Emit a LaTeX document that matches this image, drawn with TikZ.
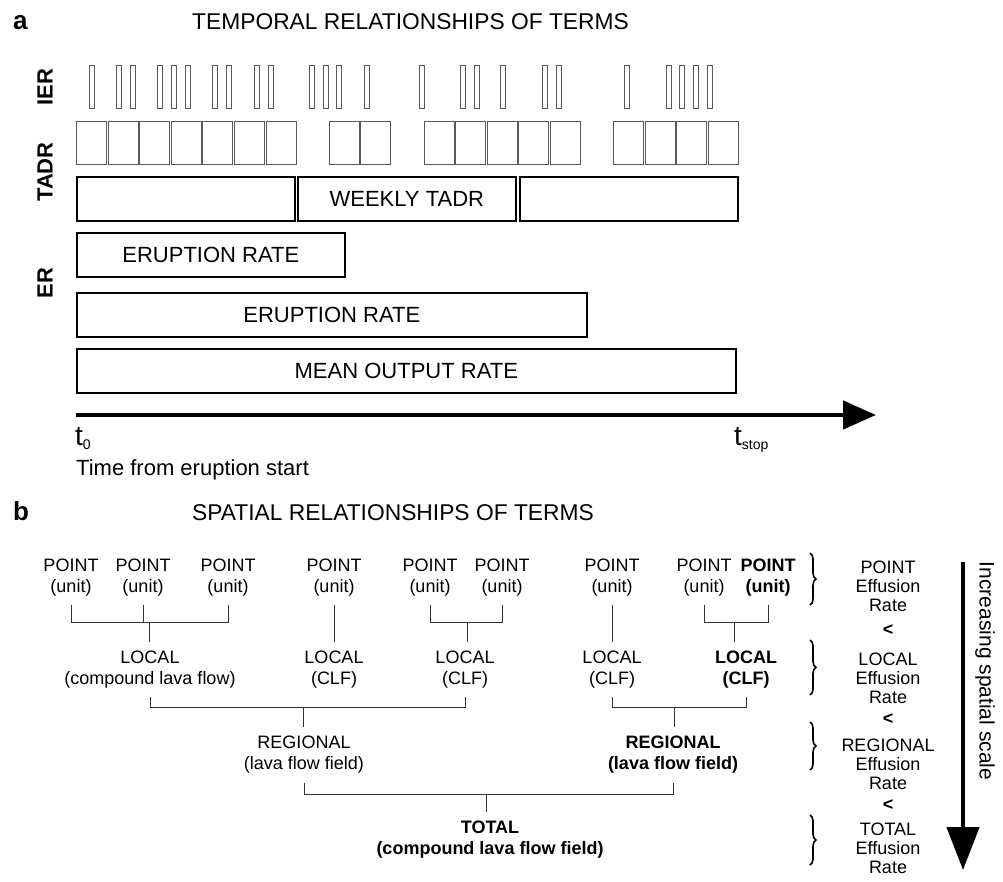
\documentclass[tikz,border=0pt]{standalone}
\usepackage{fontspec}
\setmainfont{Liberation Sans}
\usepackage{tikz}
\usetikzlibrary{arrows.meta,positioning,decorations.pathreplacing}
\definecolor{thinline}{gray}{0.35}
\definecolor{treeline}{gray}{0.2}
\newcommand{\bigtxt}{\fontsize{22}{26}\selectfont}
\newcommand{\smtxt}{\fontsize{18}{21}\selectfont}
\newcommand{\coltxt}{\fontsize{18}{19}\selectfont}
\newcommand{\hdtxt}{\fontsize{26}{30}\selectfont\bfseries}
\newcommand{\tsub}[1]{\raisebox{-4pt}{\fontsize{14}{16}\selectfont #1}}

\begin{document}
\begin{tikzpicture}[x=1pt,y=-1pt,
  ierbar/.style={draw=thinline,line width=0.9pt,minimum width=4.5pt,minimum height=43pt,inner sep=0pt},
  daybox/.style={draw=thinline,line width=0.9pt,minimum width=30pt,minimum height=43pt,inner sep=0pt,anchor=west},
  ratebox/.style={draw,line width=1.6pt,minimum height=44pt,inner sep=0pt,anchor=west,font=\bigtxt},
  axlab/.style={font=\bigtxt\bfseries,rotate=90},
  plain/.style={anchor=base west,font=\bigtxt,inner sep=0pt},
  tmark/.style={anchor=base west,font=\fontsize{28}{30}\selectfont,inner sep=0pt},
  term/.style={align=center,font=\smtxt,inner sep=0pt,outer ysep=9pt},
  bterm/.style={term,font=\smtxt\bfseries},
  tie/.style={draw=treeline,line width=0.9pt},
  ratecol/.style={align=center,font=\coltxt,inner sep=0pt,anchor=north},
  lessthan/.style={font=\coltxt\bfseries,inner sep=0pt},
  brc/.style={decorate,decoration={brace,amplitude=6pt},line width=1.6pt},
  bigarrow/.style={line width=4.5pt}]
\useasboundingbox (0,0) rectangle (1003,881);

% (a) temporal relationships
\node[plain,font=\hdtxt] (pa) at (13,29){a};
\node[plain,font=\fontsize{22.8}{26}\selectfont] (tita) at (192,29){TEMPORAL RELATIONSHIPS OF TERMS};
\node[axlab] (lier) at (45,87){IER};
\node[axlab] (ltadr) at (45,172){TADR};
\node[axlab] (ler) at (45,283){ER};
% instantaneous rates
\foreach \x [count=\i] in {92,119,133,160,174,188,215,229,257,271,312,326,339,367,
                           422,463,477,503,545,559,627,669,682,696,710}
  \node[ierbar] (ier\i) at (\x,86.5){};
% daily TADR
\foreach \k [count=\i] in {0,1,2,3,4,5,6,8,9,11,12,13,14,15,17,18,19,20}
  \node[daybox] (day\i) at ({76+31.6*\k},142.5){};
% weekly TADR
\node[ratebox,minimum width=218pt] (wk1) at (76,199){};
\node[ratebox,minimum width=218pt] (wk2) at (297,199){WEEKLY TADR};
\node[ratebox,minimum width=218pt] (wk3) at (519,199){};
% eruption rates
\node[ratebox,minimum width=268pt] (er1) at (76,255){ERUPTION RATE};
\node[ratebox,minimum width=510pt] (er2) at (76,315){ERUPTION RATE};
\node[ratebox,minimum width=659pt] (mor) at (76,371){MEAN OUTPUT RATE};
% time axis
\coordinate (tstart) at (76,415);
\coordinate (tend) at (876,415);
\draw[bigarrow,-{Triangle[width=28pt,length=33pt]}] (tstart) -- (tend);
\node[tmark] (t0) at (75,445){t\tsub{0}};
\node[tmark] (tstop) at (734,445){t\tsub{stop}};
\node[plain] (tlab) at (76,475){Time from eruption start};

% (b) spatial relationships
\node[plain,font=\hdtxt] (pb) at (13,520){b};
\node[plain,font=\fontsize{22.8}{26}\selectfont] (titb) at (192,520){SPATIAL RELATIONSHIPS OF TERMS};
% point level
\node[term] (p1) at (71,577.5){POINT\\(unit)};
\node[term] (p2) at (143,577.5){POINT\\(unit)};
\node[term] (p3) at (228,577.5){POINT\\(unit)};
\node[term] (p4) at (334,577.5){POINT\\(unit)};
\node[term] (p5) at (430,577.5){POINT\\(unit)};
\node[term] (p6) at (502,577.5){POINT\\(unit)};
\node[term] (p7) at (612,577.5){POINT\\(unit)};
\node[term] (p8) at (704,577.5){POINT\\(unit)};
\node[bterm] (p9) at (768,577.5){POINT\\(unit)};
% local level
\node[term] (l1) at (150,669.5){LOCAL\\(compound lava flow)};
\node[term] (l2) at (334,669.5){LOCAL\\(CLF)};
\node[term] (l3) at (465,669.5){LOCAL\\(CLF)};
\node[term] (l4) at (612,669.5){LOCAL\\(CLF)};
\node[bterm] (l5) at (746,669.5){LOCAL\\(CLF)};
% regional level
\node[term] (r1) at (304,755){REGIONAL\\(lava flow field)};
\node[bterm] (r2) at (673,755){REGIONAL\\(lava flow field)};
% total
\node[bterm] (tot) at (490,840){TOTAL\\(compound lava flow field)};
% point -> local
\coordinate (j1) at (149,622);
\draw[tie] (p1.south) |- (j1) -| (p3.south);
\draw[tie] (p2.south) -- (p2.south |- j1);
\draw[tie] (j1) -- (j1 |- l1.north);
\draw[tie] (p4.south) -- (l2.north);
\coordinate (j2) at (467,622);
\draw[tie] (p5.south) |- (j2) -| (p6.south);
\draw[tie] (j2) -- (j2 |- l3.north);
\draw[tie] (p7.south) -- (l4.north);
\coordinate (j3) at (734,622);
\draw[tie] (p8.south) |- (j3) -| (p9.south);
\draw[tie] (j3) -- (j3 |- l5.north);
% local -> regional
\coordinate (k1) at (303,707);
\draw[tie] (l1.south) |- (k1) -| (l3.south);
\draw[tie] (k1) -- (k1 |- r1.north);
\coordinate (k2) at (674,707);
\draw[tie] (l4.south) |- (k2) -| (l5.south);
\draw[tie] (k2) -- (k2 |- r2.north);
% regional -> total
\coordinate (m1) at (486,794);
\draw[tie] (r1.south) |- (m1) -| (r2.south);
\draw[tie] (m1) -- (m1 |- tot.north);
% effusion rate column
\node[ratecol] (cpoint) at (888,560.5){POINT\\Effusion\\Rate};
\node[lessthan] (lt1) at (888,630){<};
\node[ratecol] (clocal) at (888,652.5){LOCAL\\Effusion\\Rate};
\node[lessthan] (lt2) at (888,719){<};
\node[ratecol] (cregion) at (888,738.5){REGIONAL\\Effusion\\Rate};
\node[lessthan] (lt3) at (888,805){<};
\node[ratecol] (ctotal) at (888,822.5){TOTAL\\Effusion\\Rate};
\draw[brc] (810,553) -- (810,605);
\draw[brc] (810,640) -- (810,695);
\draw[brc] (810,722) -- (810,770);
\draw[brc] (810,815) -- (810,865);
% scale arrow
\coordinate (stop) at (963,562);
\coordinate (sbot) at (963,870);
\draw[bigarrow,-{Triangle[width=32pt,length=43pt]}] (stop) -- (sbot);
\node[font=\fontsize{21}{25}\selectfont,rotate=-90] (scl) at (985,671){Increasing spatial scale};
\end{tikzpicture}
\end{document}
